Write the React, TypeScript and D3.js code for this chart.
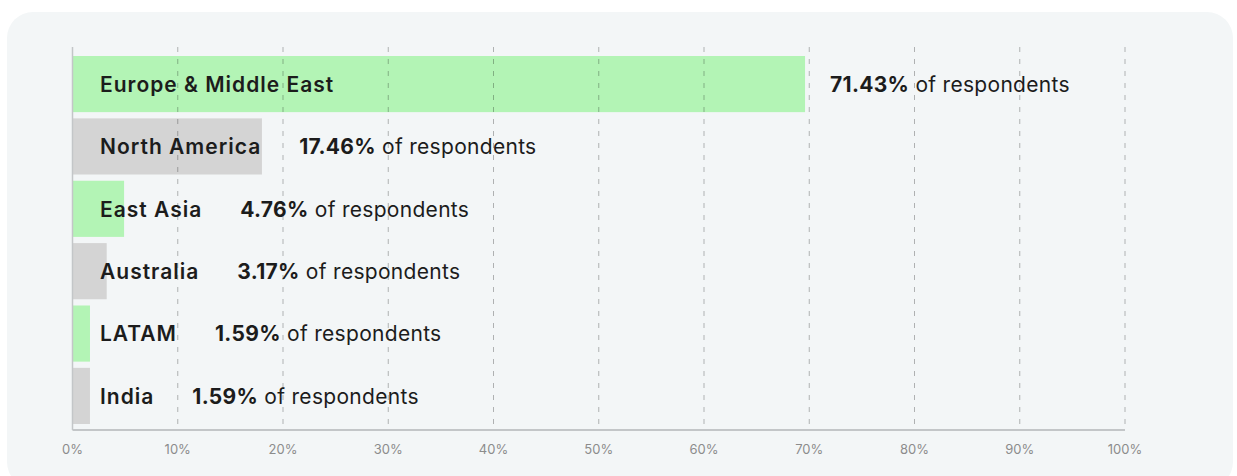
import React from "react";
import * as d3 from "d3";

const regions = ["Europe & Middle East", "North America", "East Asia", "Australia", "LATAM", "India"];
const shareLabels = ["71.43%", "17.46%", "4.76%", "3.17%", "1.59%", "1.59%"];
const barLengths = [69.6, 18.0, 4.9, 3.25, 1.66, 1.66];
const barColors = ["#b3f4b5", "#d4d4d4"];
const tickValues = [0, 10, 20, 30, 40, 50, 60, 70, 80, 90, 100];

const W = 1237;
const H = 476;
const FONT = "Inter, 'Noto Sans', sans-serif";

let ctx: CanvasRenderingContext2D | null = null;
function measure(text: string, font: string): number {
  if (!ctx) ctx = document.createElement("canvas").getContext("2d");
  if (!ctx) return text.length * 11;
  ctx.font = font;
  return ctx.measureText(text).width;
}

export default function App() {
  const x = d3.scaleLinear().domain([0, 100]).range([72.5, 1125]);
  const y = d3.scaleBand<string>().domain(regions).range([56, 424]).paddingInner(0.1).paddingOuter(0);
  const top = 47;
  const bottom = 430;
  const labelSize = 21;
  const labelSpacing = 1.0;
  const valueSpacing = 0.3;
  const labelFont = `600 ${labelSize}px Inter`;

  return (
    <svg width={W} height={H} style={{ position: "absolute", left: 0, top: 0 }}>
      <rect x={7} y={12} width={1226} height={476} rx={26} ry={26} fill="#f3f6f7" />
      {regions.map((r, i) => (
        <rect
          key={r}
          x={x(0)}
          y={y(r)}
          width={x(barLengths[i]) - x(0)}
          height={y.bandwidth()}
          fill={barColors[i % 2]}
        />
      ))}
      {tickValues.slice(1).map((t) => (
        <line
          key={t}
          x1={x(t)}
          x2={x(t)}
          y1={top}
          y2={bottom}
          stroke="rgba(0,0,0,0.28)"
          strokeWidth={1}
          strokeDasharray="5,7"
        />
      ))}
      <line x1={x(0)} x2={x(0)} y1={top} y2={bottom} stroke="#c3c6c8" strokeWidth={1.5} />
      <line x1={x(0)} x2={x(100)} y1={bottom} y2={bottom} stroke="#c3c6c8" strokeWidth={2} />
      {tickValues.map((t) => (
        <text
          key={t}
          x={x(t)}
          y={453.5}
          textAnchor="middle"
          fontFamily={FONT}
          fontSize={13}
          fill="#8c8c8c"
        >
          {t}%
        </text>
      ))}
      {regions.map((r, i) => {
        const cy = (y(r) as number) + y.bandwidth() / 2;
        const base = cy + 7.7;
        const labelEnd = 100 + measure(r, labelFont) + labelSpacing * r.length;
        const vx = Math.max(x(barLengths[i]) + 25, labelEnd + 38);
        return (
          <g key={r}>
            <text
              x={100}
              y={base}
              fontFamily={FONT}
              fontSize={labelSize}
              fontWeight={600}
              letterSpacing={labelSpacing}
              fill="#1c1c1c"
            >
              {r}
            </text>
            <text
              x={vx}
              y={base}
              fontFamily={FONT}
              fontSize={labelSize}
              letterSpacing={valueSpacing}
              fill="#1c1c1c"
            >
              <tspan fontWeight={700}>{shareLabels[i]}</tspan>
              <tspan fontWeight={400}> of respondents</tspan>
            </text>
          </g>
        );
      })}
    </svg>
  );
}
